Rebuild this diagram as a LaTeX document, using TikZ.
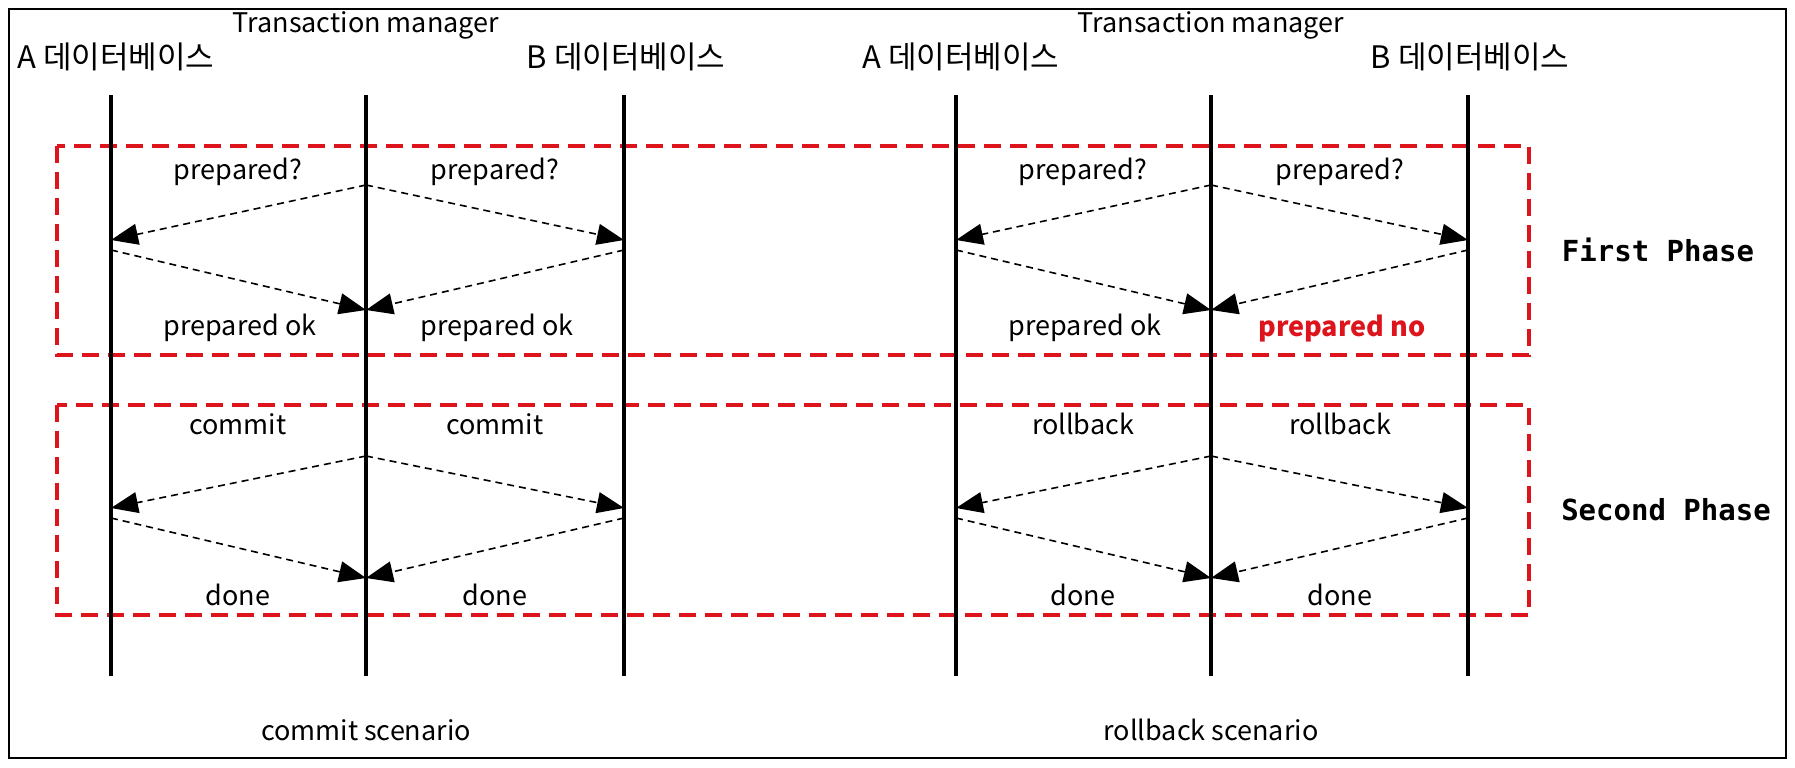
\documentclass[tikz,border=0pt]{standalone}
\usepackage{fontspec}
\setmainfont{Noto Sans CJK KR}
\newfontfamily\phasefont{DejaVu Sans Mono}
\usetikzlibrary{arrows.meta}
\definecolor{tmred}{RGB}{222,20,28}
\begin{document}
\begin{tikzpicture}[x=0.5pt,y=-0.5pt,
  every node/.style={font=\fontsize{13.5}{16}\selectfont},
  dbname/.style={font=\fontsize{15.5}{18}\selectfont},
  life/.style={line width=1.7pt},
  msg/.style={line width=0.8pt,dash pattern=on 3.5pt off 2.5pt,-{Triangle[length=13.5pt,width=10.5pt]}},
  phasebox/.style={draw=tmred,line width=2pt,dash pattern=on 8.5pt off 4.5pt},
  phase/.style={font=\phasefont\bfseries\fontsize{14.5}{17}\selectfont}]
  \useasboundingbox (0,0) rectangle (1795,767);
  \draw[line width=1.3pt] (9,9) rectangle (1786,758);
  % phase boxes
  \draw[phasebox] (57,146) rectangle (1529,355);
  \draw[phasebox] (57,405) rectangle (1529,615);
  \node[phase] (first) at (1658,250) {First Phase};
  \node[phase] (second) at (1666,510) {Second Phase};
  % lifelines, c = commit, r = rollback
  \foreach \n/\x in {ca/111,ct/366,cb/624,ra/956,rt/1211,rb/1468} {
    \coordinate (\n) at (\x,95);
    \coordinate (\n-end) at (\x,676);
    \draw[life] (\n) -- (\n-end);
    \coordinate (\n-s1) at (\x,185); \coordinate (\n-g1) at (\x,240);
    \coordinate (\n-d1) at (\x,250); \coordinate (\n-r1) at (\x,310);
    \coordinate (\n-s2) at (\x,456); \coordinate (\n-g2) at (\x,508);
    \coordinate (\n-d2) at (\x,518); \coordinate (\n-r2) at (\x,578);
  }
  \foreach \p in {c,r} {
    \foreach \k in {1,2} {
      \draw[msg] (\p t-s\k) -- (\p a-g\k);
      \draw[msg] (\p t-s\k) -- (\p b-g\k);
      \draw[msg] (\p a-d\k) -- (\p t-r\k);
      \draw[msg] (\p b-d\k) -- (\p t-r\k);
    }
  }
  % headers
  \node (ct-lab) at (366,25) {Transaction manager};
  \node[dbname] (ca-lab) at (116,57) {A 데이터베이스};
  \node[dbname] (cb-lab) at (626,57) {B 데이터베이스};
  \node (rt-lab) at (1211,25) {Transaction manager};
  \node[dbname] (ra-lab) at (961,57) {A 데이터베이스};
  \node[dbname] (rb-lab) at (1470,57) {B 데이터베이스};
  % messages
  \node (c-ask-a) at (238,172) {prepared?};
  \node (c-ask-b) at (495,172) {prepared?};
  \node (c-ok-a) at (240,328) {prepared ok};
  \node (c-ok-b) at (497,328) {prepared ok};
  \node (c-com-a) at (238,424) {commit};
  \node (c-com-b) at (495,424) {commit};
  \node (c-done-a) at (238,595) {done};
  \node (c-done-b) at (495,595) {done};
  \node (r-ask-a) at (1083,172) {prepared?};
  \node (r-ask-b) at (1340,172) {prepared?};
  \node (r-ok-a) at (1085,328) {prepared ok};
  \node[text=tmred,font=\bfseries\fontsize{13.5}{16}\selectfont] (r-no-b) at (1342,328) {prepared no};
  \node (r-rb-a) at (1083,424) {rollback};
  \node (r-rb-b) at (1340,424) {rollback};
  \node (r-done-a) at (1083,595) {done};
  \node (r-done-b) at (1340,595) {done};
  % scenario names
  \node (c-name) at (366,730) {commit scenario};
  \node (r-name) at (1211,730) {rollback scenario};
\end{tikzpicture}
\end{document}
